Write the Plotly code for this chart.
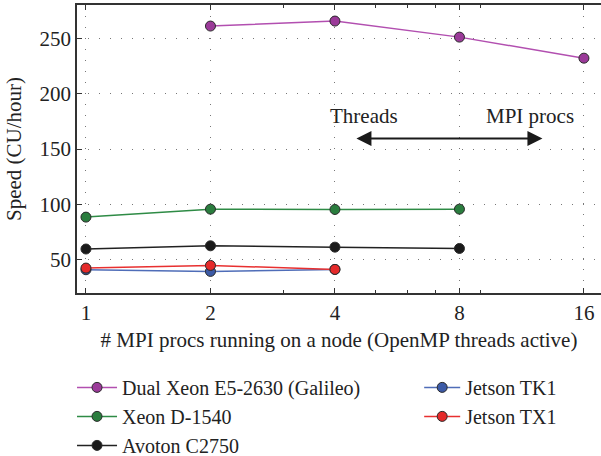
import numpy as np
import plotly.graph_objects as go

procs = [1, 2, 4, 8, 16]
galileo_x = [2, 4, 8, 16]
galileo_y = [261, 265.5, 251, 232]
xeond_x = [1, 2, 4, 8]
xeond_y = [88.5, 95.7, 95.4, 95.7]
avoton_x = [1, 2, 4, 8]
avoton_y = [59.7, 62.6, 61.4, 60.2]
tk1_x = [1, 2, 4]
tk1_y = [41.0, 39.5, 41.3]
tx1_x = [1, 2, 4]
tx1_y = [42.5, 44.9, 41.3]
y_ticks = [50, 100, 150, 200, 250]
minor_x = [3, 5, 6, 7, 9]

FONT = "Liberation Serif"
TXT = "#222222"
F21 = dict(family=FONT, size=21, color=TXT)
F20 = dict(family=FONT, size=20, color=TXT)
fig = go.Figure()

series = [
    ("Dual Xeon E5-2630 (Galileo)", galileo_x, galileo_y, "#B24FB0", "#9B3A99", "legend"),
    ("Xeon D-1540", xeond_x, xeond_y, "#2E8B45", "#2A7D3E", "legend"),
    ("Avoton C2750", avoton_x, avoton_y, "#222222", "#1A1A1A", "legend"),
    ("Jetson TK1", tk1_x, tk1_y, "#4F6DB8", "#3C5AA6", "legend2"),
    ("Jetson TX1", tx1_x, tx1_y, "#E83030", "#E52A2A", "legend2"),
]
for name, xs, ys, lc, mc, lg in series:
    fig.add_trace(go.Scatter(
        x=xs, y=ys, name=name, mode="lines+markers", legend=lg,
        line=dict(color=lc, width=1.5),
        marker=dict(size=10, color=mc, line=dict(color="#2a2a2a", width=1)),
    ))

# invisible trace for the minor-ticks axis
fig.add_trace(go.Scatter(x=[1], y=[None], xaxis="x2", showlegend=False, hoverinfo="skip"))

lo = np.log10(1) - 0.072 * np.log10(2)
hi = np.log10(2) * 4.137

grid_dash = "1px,10px"
fig.update_layout(
    width=601, height=456,
    margin=dict(l=77, r=0, t=5, b=163, autoexpand=False),
    paper_bgcolor="white", plot_bgcolor="white",
    font=F21,
    xaxis=dict(
        type="log", range=[lo, hi], tickvals=procs, ticktext=[str(p) for p in procs],
        showline=True, linecolor="#333333", linewidth=1.5, mirror="ticks",
        ticks="inside", ticklen=5, tickcolor="#333333", ticklabelstandoff=0,
        tickfont=F21, automargin=False,
        showgrid=True, gridcolor="#777777", gridwidth=1.3, griddash=grid_dash,
        zeroline=False,
        title=dict(text="# MPI procs running on a node (OpenMP threads active)",
                   standoff=8, font=F21),
    ),
    xaxis2=dict(
        type="log", range=[lo, hi], overlaying="x", side="bottom",
        tickvals=minor_x, showticklabels=False, ticks="inside", ticklen=3,
        tickcolor="#333333", showgrid=False, showline=False, mirror="ticks",
        zeroline=False, automargin=False,
    ),
    yaxis=dict(
        range=[20, 280], tickvals=y_ticks,
        showline=True, linecolor="#333333", linewidth=1.5, mirror=False,
        ticks="inside", ticklen=5, tickcolor="#333333",
        tickfont=F21, automargin=False,
        showgrid=True, gridcolor="#777777", gridwidth=1.3, griddash=grid_dash,
        zeroline=False,
        title=dict(text="Speed (CU/hour)", standoff=12, font=F21),
    ),
    legend=dict(
        x=-0.0095, y=-0.26, xanchor="left", yanchor="top",
        bgcolor="rgba(0,0,0,0)", font=F20,
        tracegroupgap=0, itemwidth=40,
    ),
    legend2=dict(
        x=0.653, y=-0.26, xanchor="left", yanchor="top",
        bgcolor="rgba(0,0,0,0)", font=F20,
        tracegroupgap=0, itemwidth=36,
    ),
    showlegend=True,
)

# double-headed arrow
ay_val = 159.5
fig.add_annotation(
    x=np.log10(12.7), y=ay_val, ax=np.log10(4.47), ay=ay_val,
    xref="x", yref="y", axref="x", ayref="y",
    showarrow=True, arrowhead=2, arrowside="end+start",
    arrowsize=1.5, arrowwidth=2, arrowcolor="#1a1a1a", text="",
)
fig.add_annotation(
    x=np.log10(2 ** 2.23), y=180, xref="x", yref="y", text="Threads",
    showarrow=False, font=F21,
)
fig.add_annotation(
    x=np.log10(2 ** 3.94), y=180, xref="x", yref="y", text="MPI procs",
    xanchor="right", showarrow=False, font=F21,
)

fig.write_html("out.html")
